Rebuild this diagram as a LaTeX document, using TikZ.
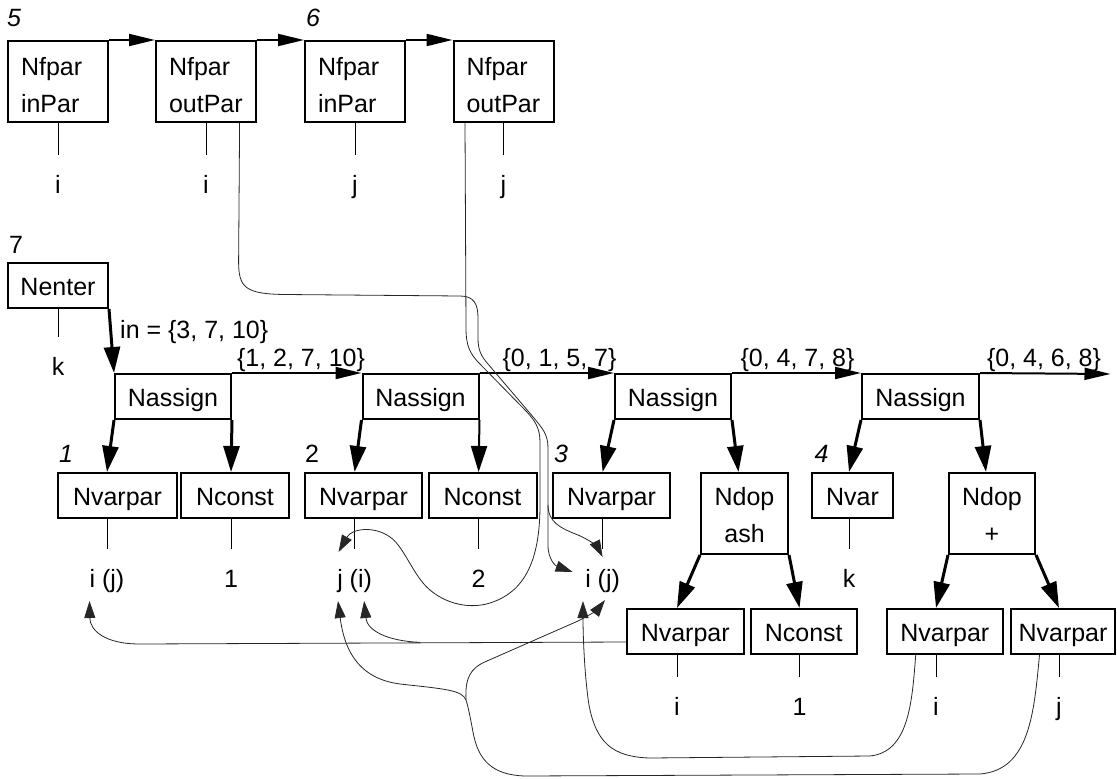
\documentclass[tikz,border=0pt]{standalone}
\usepackage{fontspec}
\setmainfont{Liberation Sans}
\usetikzlibrary{arrows.meta}
\newcommand{\twoline}[3]{\raisebox{0pt}[0pt][#1]{\parbox[t]{#2}{#3}}}
\begin{document}
\begin{tikzpicture}[x=1pt,y=-1pt,
  every node/.style={font=\fontsize{25}{37}\selectfont},
  box/.style={draw, line width=2pt, inner sep=0pt, minimum height=45pt, text height=20pt, text depth=0pt},
  tallbox/.style={draw, line width=2pt, inner sep=0pt, minimum height=81pt},
  lab/.style={inner sep=0pt, anchor=base, text height=18pt, text depth=5pt, outer ysep=20pt},
  num/.style={inner sep=0pt, anchor=base},
  stub/.style={line width=1pt},
  flow/.style={line width=2pt, -{Triangle[length=26pt,width=12pt]}},
  tree/.style={line width=3pt, -{Triangle[length=26pt,width=16pt]}},
  treeb/.style={line width=2pt, -{Triangle[length=26pt,width=16pt]}},
  link/.style={line width=0.8pt, black!85},
  linkarrow/.style={link, -{Triangle[length=17pt,width=11pt]}},
]
\useasboundingbox (0,0) rectangle (1117,779);

% ---------- top row ----------
\node[tallbox, minimum width=100pt] (f1) at (58,81.5) {\twoline{13pt}{74pt}{Nfpar\\inPar}};
\node[tallbox, minimum width=100pt] (f2) at (206,81.5) {\twoline{13pt}{74pt}{Nfpar\\outPar}};
\node[tallbox, minimum width=100pt] (f3) at (355,81.5) {\twoline{13pt}{74pt}{Nfpar\\inPar}};
\node[tallbox, minimum width=100pt] (f4) at (503.5,81.5) {\twoline{13pt}{74pt}{Nfpar\\outPar}};
\node[num, font=\fontsize{25}{37}\selectfont\itshape] (n5) at (14,27) {5};
\node[num, font=\fontsize{25}{37}\selectfont\itshape] (n6) at (313,27) {6};
\node[lab] (lf1) at (58,193) {i};
\node[lab] (lf2) at (206,193) {i};
\node[lab] (lf3) at (355,193) {j};
\node[lab] (lf4) at (503.5,193) {j};
\draw[stub] (f1.south) -- (lf1.north);
\draw[stub] (f2.south) -- (lf2.north);
\draw[stub] (f3.south) -- (lf3.north);
\draw[stub] (f4.south) -- (lf4.north);
\draw[flow] (f1.north east) -- (f2.north west);
\draw[flow] (f2.north east) -- (f3.north west);
\draw[flow] (f3.north east) -- (f4.north west);

% ---------- enter ----------
\node[num] (n7) at (16,253) {7};
\node[box, minimum width=100pt] (ne) at (58,285.5) {Nenter};
\node[lab] (lne) at (58,375) {k};
\draw[stub] (ne.south) -- (lne.north);
\node[num, anchor=base west] (lin) at (120,338) {in = \{3, 7, 10\}};

% ---------- assign chain ----------
\node[box, minimum width=116pt] (na1) at (173,396.5) {Nassign};
\node[box, minimum width=116pt] (na2) at (420.5,396.5) {Nassign};
\node[box, minimum width=116pt] (na3) at (673,396.5) {Nassign};
\node[box, minimum width=117pt] (na4) at (920.5,396.5) {Nassign};
\coordinate (out) at (1110.5,374);
\node[num] (s1) at (301,366) {\{1, 2, 7, 10\}};
\node[num] (s2) at (559.5,366) {\{0, 1, 5, 7\}};
\node[num] (s3) at (797.5,366) {\{0, 4, 7, 8\}};
\node[num] (s4) at (1044,366) {\{0, 4, 6, 8\}};
\draw[tree] (ne.south east) -- (na1.north west);
\draw[flow] (na1.north east) -- (na2.north west);
\draw[flow] (na2.north east) -- (na3.north west);
\draw[flow] (na3.north east) -- (na4.north west);
\draw[flow] (na4.north east) -- (out);

% ---------- second row ----------
\node[box, minimum width=119pt] (v1) at (117.5,495.5) {Nvarpar};
\node[box, minimum width=108pt] (c1) at (235,495.5) {Nconst};
\node[box, minimum width=117pt] (v2) at (363.5,495.5) {Nvarpar};
\node[box, minimum width=108pt] (c2) at (482.5,495.5) {Nconst};
\node[box, minimum width=117pt] (v3) at (611.5,495.5) {Nvarpar};
\node[tallbox, minimum width=87pt] (d1) at (744.5,513.5) {\twoline{17pt}{80pt}{\centering Ndop\\ash}};
\node[box, minimum width=81pt] (nv) at (852.5,495.5) {Nvar};
\node[tallbox, minimum width=86pt] (d2) at (992,513.5) {\twoline{17pt}{80pt}{\centering Ndop\\+}};
\node[num, font=\fontsize{25}{37}\selectfont\itshape] (n1) at (66,462) {1};
\node[num] (n2) at (312,462) {2};
\node[num, font=\fontsize{25}{37}\selectfont\itshape] (n3) at (561,462) {3};
\node[num, font=\fontsize{25}{37}\selectfont\itshape] (n4) at (821.5,462) {4};
\node[lab] (lv1) at (107,587) {i (j)};
\node[lab] (lc1) at (231,587) {1};
\node[lab] (lv2) at (354.6,587) {j (i)};
\node[lab] (lc2) at (478.6,587) {2};
\node[lab] (lv3) at (602.6,587) {i (j)};
\node[lab] (lnv) at (849,587) {k};
\draw[stub] (v1.south -| lv1.north) -- (lv1.north);
\draw[stub] (c1.south -| lc1.north) -- (lc1.north);
\draw[stub] (v2.south -| lv2.north) -- (lv2.north);
\draw[stub] (c2.south -| lc2.north) -- (lc2.north);
\draw[stub] (v3.south -| lv3.north) -- (lv3.north);
\draw[stub] (nv.south -| lnv.north) -- (lnv.north);
\draw[tree] (na1.south west) -- (v1.north -| lv1.north);
\draw[tree] (na1.south east) -- (c1.north -| lc1.north);
\draw[tree] (na2.south west) -- (v2.north -| lv2.north);
\draw[treeb] (na2.south east) -- (c2.north -| lc2.north);
\draw[tree] (na3.south west) -- (v3.north -| lv3.north);
\draw[tree] (na3.south east) -- ([xshift=-6pt]d1.north);
\draw[tree] (na4.south west) -- (nv.north -| lnv.north);
\draw[tree] (na4.south east) -- ([xshift=-6pt]d2.north);

% ---------- third row ----------
\node[box, minimum width=116.5pt] (v4) at (685.25,631.5) {Nvarpar};
\node[box, minimum width=106.5pt] (c3) at (803.75,631.5) {Nconst};
\node[box, minimum width=116.3pt] (v5) at (944.85,631.5) {Nvarpar};
\node[box, minimum width=104pt] (v6) at (1063,631.5) {Nvarpar};
\node[lab] (lv4) at (677,715) {i};
\node[lab] (lc3) at (799.5,715) {1};
\node[lab] (lv5) at (936,715) {i};
\node[lab] (lv6) at (1059,715) {j};
\draw[stub] (v4.south -| lv4.north) -- (lv4.north);
\draw[stub] (c3.south -| lc3.north) -- (lc3.north);
\draw[stub] (v5.south -| lv5.north) -- (lv5.north);
\draw[stub] (v6.south -| lv6.north) -- (lv6.north);
\draw[tree] (d1.south west) -- (v4.north -| lv4.north);
\draw[tree] (d1.south east) -- (c3.north -| lc3.north);
\draw[tree] (d2.south west) -- (v5.north -| lv5.north);
\draw[tree] (d2.south east) -- (v6.north -| lv6.north);

% ---------- alias links ----------
% A: outPar i
\draw[link] ([xshift=-17.4pt]f2.south east) -- (238.6,262) .. controls (238.6,288) and (246,294) .. (285,294.5) -- (460,296) .. controls (474,296) and (478,304) .. (478,318) -- (478,338) .. controls (478,350) and (481,356) .. (488,364) -- (534,418) .. controls (542,428) and (548,434) .. (548,448) -- (548,505);
\draw[linkarrow] (548,505) .. controls (548,522) and (560,528) .. (578,535) .. controls (592,541) and (598,548) .. ([xshift=0pt,yshift=30pt]lv3.base);
\draw[linkarrow] (548,505) -- (548,545) .. controls (548,560) and (556,566) .. ([xshift=-30pt,yshift=15pt]lv3.base);
% B: outPar j
\draw[link] ([xshift=12.5pt]f4.south west) -- (466,328) .. controls (466,346) and (470,353) .. (478,362) -- (527,412) .. controls (535,421) and (540,428) .. (540,442) -- (540,505) .. controls (540,560) and (525,592) .. (490,603) .. controls (468,610) and (440,603) .. (423,583) .. controls (410,567) and (402,545) .. (390,537);
\draw[linkarrow] (390,537) .. controls (375,526) and (352,528) .. ([xshift=-16pt,yshift=35pt]lv2.base);
% C: Nvarpar i (row 3)
\draw[linkarrow] ([yshift=-10.5pt]v4.west) -- (140,644) .. controls (104,644) and (90,630) .. ([xshift=-17.5pt,yshift=-14pt]lv1.base);
\draw[linkarrow] (420,642.3) .. controls (386,641) and (367,630) .. ([xshift=9.5pt,yshift=-14pt]lv2.base);
% D: Nvarpar i (row 3, under +)
\draw[linkarrow] ([xshift=30pt]v5.south west) .. controls (912,705) and (908,752) .. (870,756) -- (650,758) .. controls (612,757) and (596,742) .. (589,705) .. controls (585,680) and (583,640) .. ([xshift=-19.6pt,yshift=-14pt]lv3.base);
% E: Nvarpar j
\draw[link] ([xshift=29.5pt]v6.south west) .. controls (1034,712) and (1030,770) .. (980,774) -- (525,776) .. controls (492,775) and (478,760) .. (473,732) .. controls (470,716) and (468,706) .. (466,700);
\draw[linkarrow] (466,700) .. controls (462,690) and (445,689) .. (400,684) .. controls (362,679) and (345,655) .. ([xshift=-16.6pt,yshift=-14pt]lv2.base);
\draw[linkarrow] (466,700) .. controls (465,678) and (470,668) .. (487,661) -- (578,621) .. controls (592,614) and (598,609) .. ([xshift=2.4pt,yshift=-13pt]lv3.base);
\end{tikzpicture}
\end{document}
